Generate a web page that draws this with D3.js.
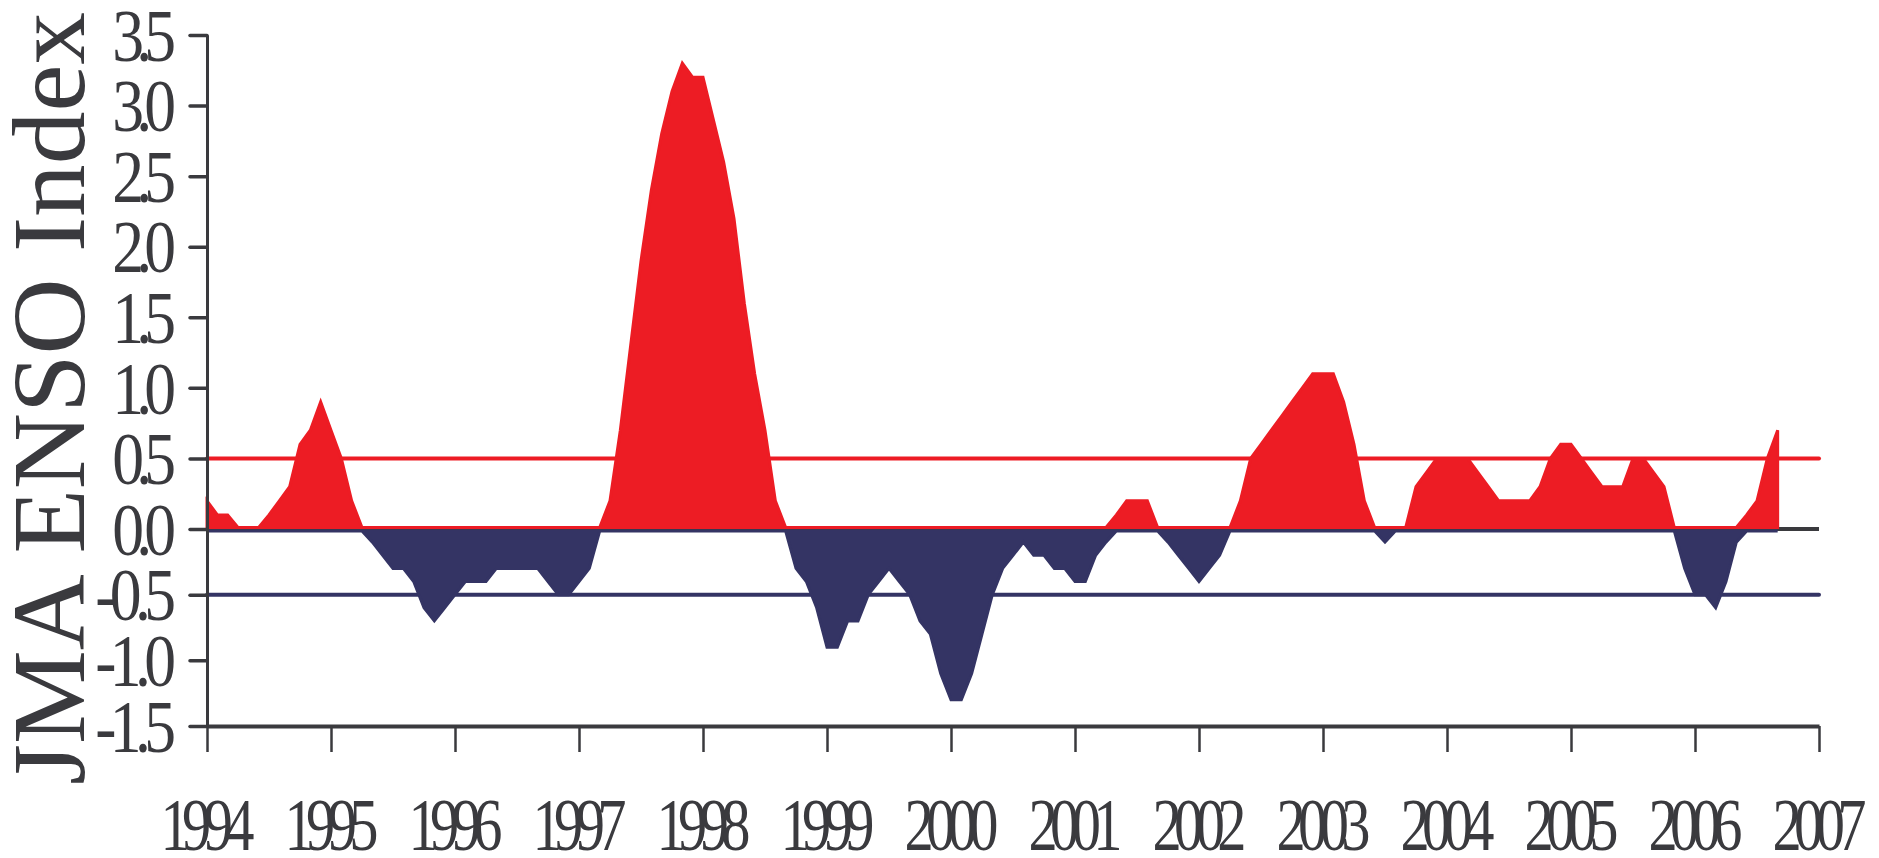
<!DOCTYPE html>
<html><head><meta charset="utf-8">
<script src="https://cdn.jsdelivr.net/npm/d3@7"></script>
<style>html,body{margin:0;padding:0;background:#fff;} svg{display:block;}</style>
</head><body>
<svg id="chart" width="1879" height="858"></svg>
<script>
// ---- data (monthly JMA ENSO index, Jan 1994 – Sep 2006) ----
const enso1994 = [0.2, 0.1, 0.1, 0.0, 0.0, 0.0, 0.1, 0.2, 0.3, 0.6, 0.7, 0.9];
const enso1995 = [0.7, 0.5, 0.2, 0.0, -0.1, -0.2, -0.3, -0.3, -0.4, -0.6, -0.7, -0.6];
const enso1996 = [-0.5, -0.4, -0.4, -0.4, -0.3, -0.3, -0.3, -0.3, -0.3, -0.4, -0.5, -0.5];
const enso1997 = [-0.4, -0.3, 0.0, 0.2, 0.7, 1.3, 1.9, 2.4, 2.8, 3.1, 3.3, 3.2];
const enso1998 = [3.2, 2.9, 2.6, 2.2, 1.6, 1.1, 0.7, 0.2, 0.0, -0.3, -0.4, -0.6];
const enso1999 = [-0.9, -0.9, -0.7, -0.7, -0.5, -0.4, -0.3, -0.4, -0.5, -0.7, -0.8, -1.1];
const enso2000 = [-1.3, -1.3, -1.1, -0.8, -0.5, -0.3, -0.2, -0.1, -0.2, -0.2, -0.3, -0.3];
const enso2001 = [-0.4, -0.4, -0.2, -0.1, 0.1, 0.2, 0.2, 0.2, 0.0, -0.1, -0.2, -0.3];
const enso2002 = [-0.4, -0.3, -0.2, 0.0, 0.2, 0.5, 0.6, 0.7, 0.8, 0.9, 1.0, 1.1];
const enso2003 = [1.1, 1.1, 0.9, 0.6, 0.2, 0.0, -0.1, 0.0, 0.0, 0.3, 0.4, 0.5];
const enso2004 = [0.5, 0.5, 0.5, 0.4, 0.3, 0.2, 0.2, 0.2, 0.2, 0.3, 0.5, 0.6];
const enso2005 = [0.6, 0.5, 0.4, 0.3, 0.3, 0.3, 0.5, 0.5, 0.4, 0.3, 0.0, -0.3];
const enso2006 = [-0.5, -0.5, -0.6, -0.4, -0.1, 0.1, 0.2, 0.5, 0.7];
const startYear = 1994;
const yearLabels = [1994,1995,1996,1997,1998,1999,2000,2001,2002,2003,2004,2005,2006,2007];
const yTickValues = [-1.5,-1.0,-0.5,0.0,0.5,1.0,1.5,2.0,2.5,3.0,3.5];
const thresholds = [0.5, -0.5];
const yTitle = "JMA ENSO Index";

const values = [].concat(enso1994, enso1995, enso1996, enso1997, enso1998, enso1999,
  enso2000, enso2001, enso2002, enso2003, enso2004, enso2005, enso2006);
const series = values.map((v, i) => ({t: startYear + i / 12, v}));

// ---- layout ----
const RED = "#ED1C24", NAVY = "#343464", INK = "#3a3a3e";
const FONT = "'Liberation Serif', 'Times New Roman', serif";
const svg = d3.select("#chart");
const x = d3.scaleLinear().domain([1994, 2007]).range([207, 1819]);
const y = d3.scaleLinear().domain([-1.5, 0, 3.5]).range([726, 529, 35]);

// zero line (visible beyond data end)
svg.append("line")
  .attr("x1", x(1994)).attr("x2", x(2007))
  .attr("y1", y(0)).attr("y2", y(0))
  .attr("stroke", INK).attr("stroke-width", 4);

// threshold lines
svg.append("line")
  .attr("x1", x(1994)).attr("x2", x(2007))
  .attr("y1", y(thresholds[0])).attr("y2", y(thresholds[0]))
  .attr("stroke", RED).attr("stroke-width", 4).attr("stroke-linecap", "round");
svg.append("line")
  .attr("x1", x(1994)).attr("x2", x(2007))
  .attr("y1", y(thresholds[1])).attr("y2", y(thresholds[1]))
  .attr("stroke", NAVY).attr("stroke-width", 4).attr("stroke-linecap", "round");

// positive (red) and negative (navy) areas
const posArea = d3.area()
  .x(d => x(d.t))
  .y0(y(0) - 1.5)
  .y1(d => Math.min(y(Math.max(d.v, 0)), y(0) - 1.5));
const negArea = d3.area()
  .x(d => x(d.t))
  .y0(y(0) + 2)
  .y1(d => Math.max(y(Math.min(d.v, 0)), y(0) + 2));

svg.append("path").datum(series).attr("d", posArea)
  .attr("fill", RED).attr("stroke", RED).attr("stroke-width", 3).attr("stroke-linejoin", "miter");
svg.append("path").datum(series).attr("d", negArea)
  .attr("fill", NAVY).attr("stroke", NAVY).attr("stroke-width", 3).attr("stroke-linejoin", "miter");

// condensed label helper: glyphs squeezed by gs, total width = target
function condense(sel, gs, targetFn) {
  sel.each(function() {
    const t = d3.select(this);
    const natural = this.getComputedTextLength();
    const target = targetFn(natural);
    const x0 = +t.attr("x") || 0;
    t.attr("transform", `scale(${gs},1)`)
     .attr("x", x0 / gs)
     .attr("textLength", target / gs)
     .attr("lengthAdjust", "spacing");
  });
}

// y axis
const yAxis = d3.axisLeft(y).tickValues(yTickValues).tickFormat(d => d.toFixed(1))
  .tickSize(17).tickSizeOuter(0).tickPadding(14);
const gy = svg.append("g").attr("transform", `translate(${x(1994)},0)`).call(yAxis);
gy.select(".domain").attr("stroke", INK).attr("stroke-width", 3);
gy.selectAll(".tick line").attr("stroke", INK).attr("stroke-width", 3.5).attr("stroke-linecap", "round");
gy.selectAll(".tick text")
  .attr("font-family", FONT).attr("font-size", 74).attr("fill", INK)
  .attr("dy", "0.34em")
  .call(condense, 0.86, n => n * 0.69);

// x axis
const xAxis = d3.axisBottom(x).tickValues(yearLabels).tickFormat(d3.format("d"))
  .tickSize(26).tickSizeOuter(0);
const gx = svg.append("g").attr("transform", `translate(0,${y(-1.5)})`).call(xAxis);
gx.select(".domain").attr("stroke", INK).attr("stroke-width", 4);
gx.selectAll(".tick line").attr("stroke", INK).attr("stroke-width", 2.5);
gx.selectAll(".tick text")
  .attr("font-family", FONT).attr("font-size", 73).attr("fill", INK)
  .attr("y", 124).attr("dy", null)
  .call(condense, 0.8, () => 94);

// y title
svg.append("text")
  .attr("transform", `translate(84,${(12 + 785) / 2}) rotate(-90)`)
  .attr("text-anchor", "middle")
  .attr("font-family", FONT).attr("font-size", 104).attr("fill", INK)
  .attr("textLength", 773).attr("lengthAdjust", "spacingAndGlyphs")
  .text(yTitle);
</script>
</body></html>
